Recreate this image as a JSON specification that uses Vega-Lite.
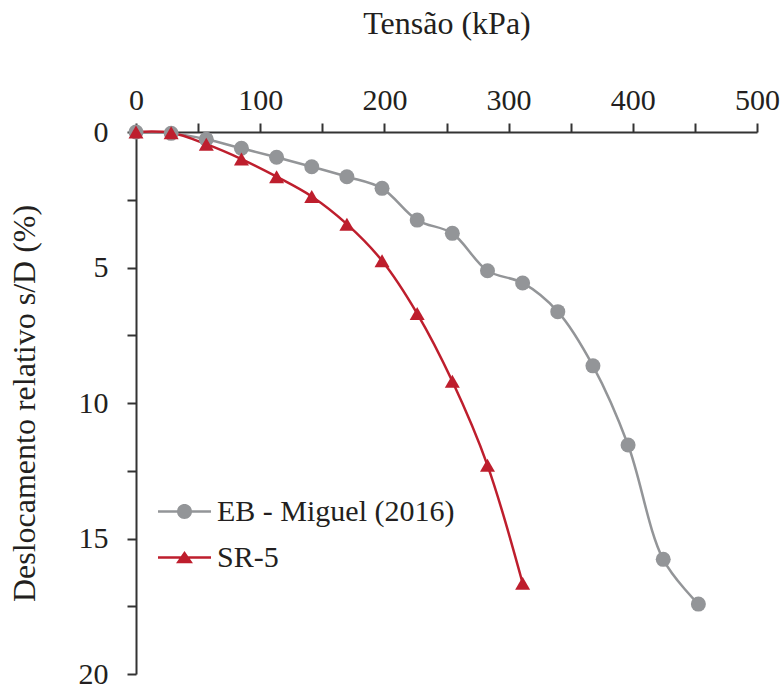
{
  "$schema": "https://vega.github.io/schema/vega-lite/v6.json",
  "width": 621,
  "height": 542,
  "autosize": "none",
  "padding": {"left": 136, "top": 132, "right": 26, "bottom": 15},
  "background": "white",
  "config": {
    "view": {"stroke": null},
    "font": "Liberation Serif",
    "axis": {
      "labelFont": "Liberation Serif",
      "titleFont": "Liberation Serif",
      "labelFontSize": 30,
      "titleFontSize": 32,
      "titleFontWeight": "normal",
      "labelColor": "#231f20",
      "titleColor": "#231f20",
      "domainColor": "#333333",
      "tickColor": "#333333",
      "domainWidth": 2,
      "tickWidth": 2,
      "tickSize": 9,
      "grid": false,
      "labelOverlap": false,
      "labelFlush": false
    }
  },
  "data": {
    "values": [
      {"series": "EB - Miguel (2016)", "x": 0, "y": 0},
      {"series": "EB - Miguel (2016)", "x": 28.3, "y": 0.05},
      {"series": "EB - Miguel (2016)", "x": 56.6, "y": 0.27},
      {"series": "EB - Miguel (2016)", "x": 84.9, "y": 0.6},
      {"series": "EB - Miguel (2016)", "x": 113.2, "y": 0.93},
      {"series": "EB - Miguel (2016)", "x": 141.5, "y": 1.28},
      {"series": "EB - Miguel (2016)", "x": 169.8, "y": 1.65},
      {"series": "EB - Miguel (2016)", "x": 198.1, "y": 2.08},
      {"series": "EB - Miguel (2016)", "x": 226.4, "y": 3.25},
      {"series": "EB - Miguel (2016)", "x": 254.7, "y": 3.74},
      {"series": "EB - Miguel (2016)", "x": 283.0, "y": 5.12},
      {"series": "EB - Miguel (2016)", "x": 311.3, "y": 5.57},
      {"series": "EB - Miguel (2016)", "x": 339.6, "y": 6.63},
      {"series": "EB - Miguel (2016)", "x": 367.9, "y": 8.63},
      {"series": "EB - Miguel (2016)", "x": 396.2, "y": 11.55},
      {"series": "EB - Miguel (2016)", "x": 424.5, "y": 15.77},
      {"series": "EB - Miguel (2016)", "x": 452.8, "y": 17.42},
      {"series": "SR-5", "x": 0, "y": 0},
      {"series": "SR-5", "x": 28.3, "y": 0.03},
      {"series": "SR-5", "x": 56.6, "y": 0.45},
      {"series": "SR-5", "x": 84.9, "y": 1.0},
      {"series": "SR-5", "x": 113.2, "y": 1.65},
      {"series": "SR-5", "x": 141.5, "y": 2.38},
      {"series": "SR-5", "x": 169.8, "y": 3.4},
      {"series": "SR-5", "x": 198.1, "y": 4.75},
      {"series": "SR-5", "x": 226.4, "y": 6.7},
      {"series": "SR-5", "x": 254.7, "y": 9.2},
      {"series": "SR-5", "x": 283.0, "y": 12.3},
      {"series": "SR-5", "x": 311.3, "y": 16.65}
    ]
  },
  "encoding": {
    "x": {
      "field": "x",
      "type": "quantitative",
      "scale": {"domain": [0, 500], "nice": false, "zero": false},
      "axis": {
        "orient": "top",
        "title": "Tensão (kPa)",
        "values": [0, 50, 100, 150, 200, 250, 300, 350, 400, 450, 500],
        "labelExpr": "datum.value % 100 === 0 ? datum.label : ''",
        "labelPadding": 8,
        "titleY": -99,
        "titleBaseline": "alphabetic"
      }
    },
    "y": {
      "field": "y",
      "type": "quantitative",
      "scale": {"domain": [0, 20], "reverse": true, "nice": false},
      "axis": {
        "title": "Deslocamento relativo s/D (%)",
        "values": [0, 2.5, 5, 7.5, 10, 12.5, 15, 17.5, 20],
        "labelExpr": "datum.value % 5 === 0 ? datum.label : ''",
        "labelPadding": 19,
        "titleAngle": 270,
        "titleAlign": "center",
        "titleBaseline": "middle",
        "titleX": -112,
        "titleY": 271
      }
    },
    "color": {
      "field": "series",
      "type": "nominal",
      "scale": {"domain": ["EB - Miguel (2016)", "SR-5"], "range": ["#939598", "#be1e2d"]},
      "legend": {
        "orient": "none",
        "legendX": 22,
        "legendY": 353,
        "title": null,
        "padding": 0,
        "labelFont": "Liberation Serif",
        "labelFontSize": 30,
        "labelColor": "#231f20",
        "labelLimit": 500,
        "labelOffset": 6,
        "rowPadding": 4,
        "symbolSize": 2809,
        "symbolStrokeWidth": 0,
        "encoding": {
          "symbols": {
            "shape": {"value": {"expr": "datum.value === 'SR-5' ? 'M-1,-0.047L1,-0.047L1,0.047L-1,0.047Z M0,-0.25L0.32,0.22L-0.32,0.22Z' : 'M-1,-0.047L1,-0.047L1,0.047L-1,0.047Z M0.283,0A0.283,0.283 0 1,1 -0.283,0A0.283,0.283 0 1,1 0.283,0Z'"}},
            "fill": {"value": {"expr": "datum.value === 'SR-5' ? '#be1e2d' : '#939598'"}},
            "strokeWidth": {"value": 0},
            "opacity": {"value": 1}
          }
        }
      }
    }
  },
  "layer": [
    {
      "mark": {"type": "line", "interpolate": "catmull-rom", "strokeWidth": 2.5}
    },
    {
      "mark": {"type": "point", "filled": true, "size": 225, "opacity": 1},
      "encoding": {
        "shape": {
          "condition": {"test": "datum.series === 'SR-5'", "value": "triangle-up"},
          "value": "circle"
        }
      }
    }
  ]
}
